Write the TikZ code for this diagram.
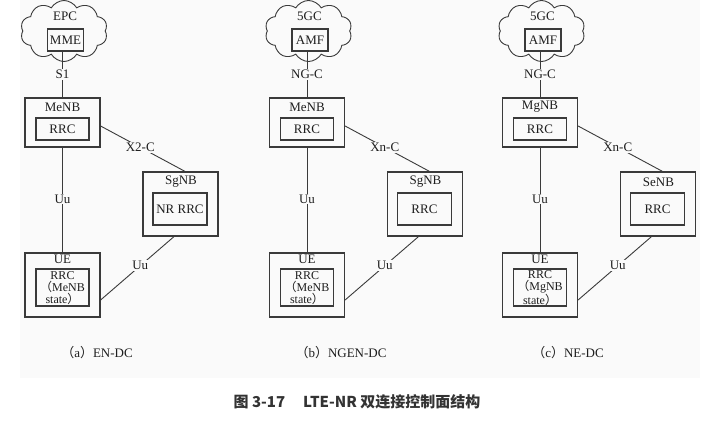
\documentclass[tikz,border=0pt]{standalone}
\usepackage{fontspec}
\setmainfont{Liberation Serif}
\newfontfamily\cjk{Noto Sans CJK SC}
\usetikzlibrary{shapes.symbols}
\definecolor{linec}{HTML}{3A3A3A}
\definecolor{txtc}{HTML}{1E1E1E}
\definecolor{bgc}{HTML}{FAFAFA}
\definecolor{capc}{HTML}{333333}
\newcommand\fs{\fontsize{13}{12.5}\selectfont}
\newcommand\fsm{\fontsize{12}{12}\selectfont}
\newcommand\mypanel[9]{%
\begin{scope}[xshift=#2pt]
  \node[cloudshape] (#1cloud) at (64,31) {};
  \node[txt] (#1core) at (65,16) {#3};
  \node[box, minimum width=36, minimum height=22] (#1mme) at (65.5,40) {#4};
  \node[box, minimum width=75, minimum height=49] (#1menb) at (62.5,122.5) {};
  \node[txt] (#1menbl) at (62.5,107) {#6};
  \node[box, minimum width=53, minimum height=22] (#1rrc) at (62.5,129) {RRC};
  \node[box, minimum width=75, minimum height=64] (#1sgnb) at (180.5,204) {};
  \node[txt] (#1sgnbl) at (181,182) {#8};
  \node[box, minimum width=54, minimum height=32] (#1nrrrc) at (180,209) {#9};
  \node[box, minimum width=75, minimum height=64] (#1ue) at (62.5,285) {};
  \node[txt] (#1uel) at (62.5,259.5) {UE};
  \node[box, minimum width=53, minimum height=37] (#1uerrc) at (62.5,287.5) {};
  \node[txt, align=center, font=\fsm] (#1uetxt) at (62.5,288.5)
     {RRC\\{\cjk （}#6\\state{\cjk ）}};
  \draw[line] (#1menb.north |- #1mme.south) -- node[lbl] (#1s1) {#5} (#1menb.north);
  \draw[line] (#1menb.south) -- node[lbl, pos=0.49] (#1uu1) {Uu} (#1ue.north);
  \coordinate (#1xa) at ([yshift=-3.5pt]#1menb.east);
  \coordinate (#1xb) at ([xshift=4.5pt]#1sgnb.north);
  \draw[line] (#1xa) -- node[lbl, pos=0.47] (#1x2) {#7} (#1xb);
  \coordinate (#1ua) at ([yshift=-15pt]#1ue.east);
  \coordinate (#1ub) at ([xshift=-6.5pt]#1sgnb.south);
  \draw[line] (#1ua) -- node[lbl, pos=0.54] (#1uu2) {Uu} (#1ub);
\end{scope}}
\begin{document}
\begin{tikzpicture}[x=1pt,y=-1pt,
  line/.style={draw=linec, line width=0.9pt},
  box/.style={draw=linec, line width=1.2pt, inner sep=0pt, text=txtc, font=\fs},
  txt/.style={inner sep=0pt, text=txtc, font=\fs},
  lbl/.style={fill=bgc, inner sep=1pt, text=txtc, font=\fs},
  cloudshape/.style={cloud, draw=linec, line width=0.9pt, cloud puffs=10, cloud puff arc=120,
     aspect=1.45, minimum width=87, minimum height=61, inner sep=0pt, fill=bgc},
]
\useasboundingbox (0,0) rectangle (715,423);
\fill[bgc] (20,0) rectangle (700,378);
\mypanel{a}{0}{EPC}{MME}{S1}{MeNB}{X2-C}{SgNB}{NR RRC}
\mypanel{b}{244.5}{5GC}{AMF}{NG-C}{MeNB}{Xn-C}{SgNB}{RRC}
\mypanel{c}{477.5}{5GC}{AMF}{NG-C}{MgNB}{Xn-C}{SeNB}{RRC}
\node[txt] (capa) at (97,353) {{\cjk （}a{\cjk ）}EN-DC};
\node[txt] (capb) at (341,353) {{\cjk （}b{\cjk ）}NGEN-DC};
\node[txt] (capc) at (568,353) {{\cjk （}c{\cjk ）}NE-DC};
\node[inner sep=0pt, text=capc, font={\cjk\bfseries\fontsize{15}{15}\selectfont}] (title) at (357,402)
  {图 3-17\hspace{1.2em}LTE-NR 双连接控制面结构};
\end{tikzpicture}
\end{document}
